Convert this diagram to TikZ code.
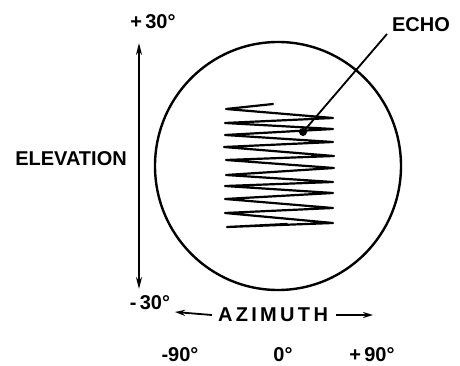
\documentclass[tikz,border=0pt]{standalone}
\usepackage{fontspec}
\setmainfont{Liberation Sans}
\usetikzlibrary{arrows.meta}
\begin{document}
\begin{tikzpicture}[x=1pt,y=-1pt,
  lbl/.style={inner sep=0pt,font=\fontsize{20}{21}\selectfont\bfseries},
  ink/.style={line width=2.4pt,line join=round,line cap=round},
  dimarrow/.style={line width=1.8pt,-{Stealth[length=12pt,width=6pt]}}]
\useasboundingbox (0,0) rectangle (460,366);
% scope circle
\draw[ink] (278,166) ellipse [x radius=123,y radius=124];
% raster zigzag
\draw[ink,line width=2.2pt] (273,104) -- (226,109) -- (333,118) -- (225,123) -- (333,129)
  -- (225,135) -- (333,142) -- (224,147) -- (334,156) -- (226,160) -- (334,168)
  -- (226,175) -- (333,182) -- (225,186) -- (333,193) -- (225,199) -- (333,208)
  -- (225,213) -- (333,223) -- (227,227) -- (287,224);
% echo
\node[circle,fill,inner sep=0pt,minimum size=8pt] (dot) at (303,132) {};
\node[lbl] (echo) at (421,25) {ECHO};
\coordinate (lead) at (387,34);
\draw[line width=1.8pt] (lead) -- (dot.center);
% elevation
\node[lbl] (p30) at (153,22) {+\,30°};
\node[lbl] (m30) at (150,303) {-\,30°};
\node[lbl] (elev) at (71,159) {ELEVATION};
\coordinate (etop) at (139,43);
\coordinate (ebot) at (139,289);
\coordinate (emid) at (139,166);
\draw[dimarrow] (emid) -- (etop);
\draw[dimarrow] (emid) -- (ebot);
% azimuth
\node[lbl] (azi) at (273,315) {A\,Z\,I\,M\,U\,T\,H};
\coordinate (aleft) at (175,312);
\coordinate (aright) at (373,315);
\draw[dimarrow,-{Stealth[length=10pt,width=6pt]}] ([xshift=-6pt]azi.west) -- (aleft);
\draw[dimarrow,-{Stealth[length=10pt,width=6pt]}] ([xshift=8pt]azi.east) -- (aright);
\node[lbl] (m90) at (180,355) {-90°};
\node[lbl] (z0) at (283,355) {0°};
\node[lbl] (p90) at (372,355) {+\,90°};
\end{tikzpicture}
\end{document}
